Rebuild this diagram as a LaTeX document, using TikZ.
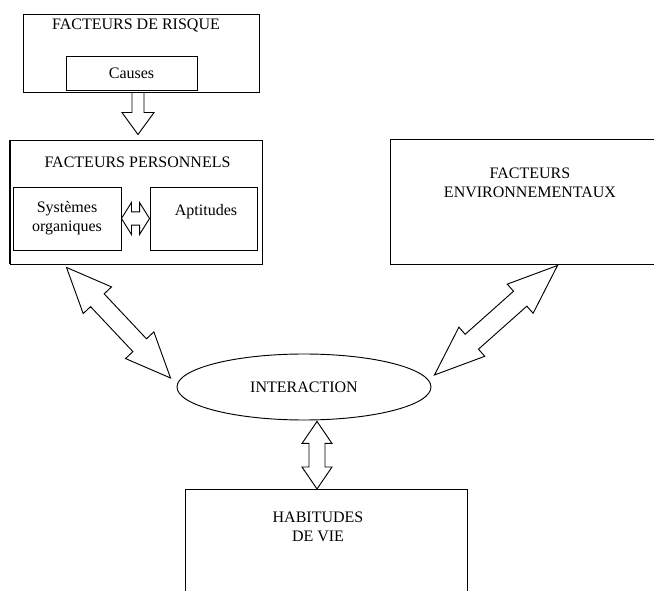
\documentclass[tikz,border=0pt]{standalone}
\usepackage{fontspec}
\setmainfont{Liberation Serif}
\usetikzlibrary{calc,shapes.geometric}

% hollow double arrow: from, to, head length, head half width, shaft half width
\newcommand{\fatarrow}[5]{%
  \path ($(#1)!#3!(#2)$) coordinate (fa1) ($(#2)!#3!(#1)$) coordinate (fa2);
  \draw[arrowline] (#1) -- ($(fa1)!#4!90:(#2)$) -- ($(fa1)!#5!90:(#2)$)
    -- ($(fa2)!#5!-90:(#1)$) -- ($(fa2)!#4!-90:(#1)$) -- (#2)
    -- ($(fa2)!#4!90:(#1)$) -- ($(fa2)!#5!90:(#1)$)
    -- ($(fa1)!#5!-90:(#2)$) -- ($(fa1)!#4!-90:(#2)$) -- cycle;}
% hollow single arrow, open tail
\newcommand{\fatsingle}[5]{%
  \path ($(#2)!#3!(#1)$) coordinate (fa2);
  \draw[arrowline] ($(#1)!#5!90:(#2)$) -- ($(fa2)!#5!-90:(#1)$)
    -- ($(fa2)!#4!-90:(#1)$) -- (#2) -- ($(fa2)!#4!90:(#1)$)
    -- ($(fa2)!#5!90:(#1)$) -- ($(#1)!#5!-90:(#2)$);}

\begin{document}
\begin{tikzpicture}[x=0.75pt, y=-0.75pt,
    box/.style={draw, line width=0.7pt, inner sep=0pt},
    txt/.style={font=\fontsize{12}{14.5}\selectfont, align=center},
    arrowline/.style={line width=0.7pt, line join=miter}]
        \useasboundingbox (0,0) rectangle (654,591);
        \clip (0,0) rectangle (654,591);

        % Facteurs de risque
        \node[box, minimum width=177pt, minimum height=58.5pt] (risk) at (141,53) {};
        \node[txt] (risktitle) at (136,26) {FACTEURS DE RISQUE};
        \node[box, txt, minimum width=98.25pt, minimum height=25.5pt] (causes) at (131.5,73) {Causes};

        % Facteurs personnels
        \node[box, minimum width=189pt, minimum height=93pt] (pers) at (136,202) {};
        \draw[line width=1.5pt] (pers.north west) -- (pers.south west);
        \node[txt] (perstitle) at (137.5,162) {FACTEURS PERSONNELS};
        \node[box, txt, minimum width=81pt, minimum height=47.25pt] (syst) at (67,218.5) {Systèmes\\organiques};
        \node[box, minimum width=80.25pt, minimum height=47.25pt] (apt) at (203.5,218.5) {};
        \node[txt] (apttext) at (206,212) {Aptitudes};

        % Facteurs environnementaux
        \node[box, minimum width=210pt, minimum height=93.75pt] (env) at (530,201.5) {};
        \node[txt] (envtext) at (530,183) {FACTEURS\\ENVIRONNEMENTAUX};

        % Interaction
        \node[box, ellipse, txt, minimum width=190.5pt, minimum height=49.5pt] (inter) at (304,387) {INTERACTION};

        % Habitudes de vie
        \node[box, anchor=north west, minimum width=211.5pt, minimum height=150pt] (hab) at (185,489) {};
        \node[txt] (habtext) at (318,527) {HABITUDES\\DE VIE};

        % Arrows
        \coordinate (a1) at ($(risk.south)+(-3,0)$);
        \coordinate (a2) at ($(pers.north)+(2,-5)$);
        \fatsingle{a1}{a2}{16.5pt}{12pt}{4.5pt}

        \fatarrow{syst.east}{apt.west}{7.5pt}{12pt}{5pt}

        \coordinate (l1) at ($(pers.south west)+(57,3)$);
        \coordinate (l2) at ($(inter.west)+(-6,-9)$);
        \fatarrow{l1}{l2}{33.75pt}{14.6pt}{7pt}

        \coordinate (r1) at ($(env.south west)+(168,1)$);
        \coordinate (r2) at ($(inter.east)+(3,-12)$);
        \fatarrow{r1}{r2}{37.5pt}{14.6pt}{7.5pt}

        \coordinate (v1) at ($(inter.south)+(13,1)$);
        \coordinate (v2) at ($(hab.north west)+(132,0)$);
        \fatarrow{v1}{v2}{16.5pt}{11.25pt}{6pt}
\end{tikzpicture}
\end{document}
